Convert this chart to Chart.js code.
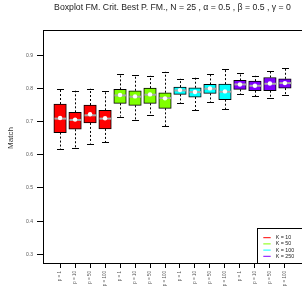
<!DOCTYPE html>
<html>
<head>
<meta charset="utf-8">
<script src="https://cdn.jsdelivr.net/npm/chart.js@4"></script>
<style>
  html, body { margin: 0; padding: 0; background: #fff; overflow: hidden; }
  #wrap { width: 302px; height: 291px; overflow: hidden; }
</style>
</head>
<body>
<div id="wrap"><canvas id="boxChart" width="306" height="291"></canvas></div>
<script>
const tickLabels = ['p = 1', 'p = 10', 'p = 50', 'p = 100',
                    'p = 1', 'p = 10', 'p = 50', 'p = 100',
                    'p = 1', 'p = 10', 'p = 50', 'p = 100',
                    'p = 1', 'p = 10', 'p = 50', 'p = 100'];
const groups = ['K = 10', 'K = 50', 'K = 100', 'K = 250'];
const groupColors = ['#FF0000', '#80FF00', '#00FFFF', '#8000FF'];

const whiskerLow  = [0.617, 0.620, 0.634, 0.638, 0.715, 0.704, 0.720, 0.686, 0.756, 0.734, 0.758, 0.738, 0.782, 0.776, 0.772, 0.779];
const q1          = [0.667, 0.677, 0.696, 0.678, 0.755, 0.749, 0.755, 0.740, 0.782, 0.774, 0.785, 0.766, 0.797, 0.793, 0.793, 0.801];
const medians     = [0.709, 0.705, 0.719, 0.709, 0.779, 0.775, 0.781, 0.771, 0.794, 0.789, 0.799, 0.790, 0.812, 0.808, 0.814, 0.816];
const q3          = [0.753, 0.728, 0.750, 0.734, 0.797, 0.793, 0.801, 0.787, 0.804, 0.802, 0.812, 0.813, 0.824, 0.822, 0.833, 0.829];
const whiskerHigh = [0.797, 0.793, 0.799, 0.793, 0.844, 0.840, 0.838, 0.850, 0.829, 0.832, 0.842, 0.859, 0.846, 0.838, 0.851, 0.863];
const means       = [0.711, 0.706, 0.722, 0.710, 0.780, 0.776, 0.782, 0.770, 0.795, 0.789, 0.800, 0.791, 0.812, 0.808, 0.815, 0.816];

const titleText = 'Boxplot FM. Crit. Best P. FM., N = 25 , \u03b1 = 0.5 , \u03b2 = 0.5 , \u03b3 = 0';
const fontFam = '"Liberation Sans", Arial, sans-serif';

const boxColors = tickLabels.map((_, i) => groupColors[Math.floor(i / 4)]);

// whiskers + medians, drawn right after the boxes so the mean dots sit on top
const boxExtras = {
    id: 'boxExtras',
    afterDatasetDraw(chart, args) {
        if (args.index !== 0) return;
        const ctx = chart.ctx, x = chart.scales.x, y = chart.scales.y;
        ctx.save();
        medians.forEach((m, i) => {
            const px = Math.round(x.getPixelForValue(i + 1)) + 0.5;
            const lo = y.getPixelForValue(whiskerLow[i]), hi = y.getPixelForValue(whiskerHigh[i]);
            ctx.strokeStyle = '#000';
            ctx.lineWidth = 1;
            ctx.setLineDash([2, 2]);
            ctx.beginPath();
            ctx.moveTo(px, y.getPixelForValue(q1[i])); ctx.lineTo(px, lo);
            ctx.moveTo(px, y.getPixelForValue(q3[i])); ctx.lineTo(px, hi);
            ctx.stroke();
            ctx.setLineDash([]);
            ctx.beginPath();
            ctx.moveTo(px - 3.5, Math.round(lo) + 0.5); ctx.lineTo(px + 3.5, Math.round(lo) + 0.5);
            ctx.moveTo(px - 3.5, Math.round(hi) + 0.5); ctx.lineTo(px + 3.5, Math.round(hi) + 0.5);
            ctx.stroke();
            const my = y.getPixelForValue(m);
            ctx.strokeStyle = '#a8a8a8';
            ctx.lineWidth = 2;
            ctx.beginPath();
            ctx.moveTo(px - 6, my); ctx.lineTo(px + 6, my);
            ctx.stroke();
        });
        ctx.restore();
    },
    afterDraw(chart) {
        const ctx = chart.ctx, a = chart.chartArea;
        ctx.save();
        // frame top
        ctx.strokeStyle = '#000';
        ctx.lineWidth = 1;
        ctx.beginPath();
        ctx.moveTo(a.left, 30.5); ctx.lineTo(a.right, 30.5);
        ctx.stroke();
        // title
        ctx.fillStyle = '#222';
        ctx.font = '8.7px ' + fontFam;
        ctx.textAlign = 'center';
        ctx.textBaseline = 'middle';
        ctx.fillText(titleText, (a.left + a.right) / 2, 8);
        // y label
        ctx.save();
        ctx.translate(11, 138);
        ctx.rotate(-Math.PI / 2);
        ctx.fillStyle = '#333';
        ctx.font = '8px ' + fontFam;
        ctx.fillText('Match', 0, 0);
        ctx.restore();
        // legend
        ctx.fillStyle = '#fff';
        ctx.fillRect(257.5, 228.5, 60, 35);
        ctx.strokeStyle = '#000';
        ctx.strokeRect(257.5, 228.5, 60, 35);
        ctx.font = '5.3px ' + fontFam;
        ctx.textAlign = 'left';
        groups.forEach((g, i) => {
            const ly = 237.7 + i * 6.2;
            ctx.strokeStyle = groupColors[i];
            ctx.lineWidth = 1;
            ctx.beginPath();
            ctx.moveTo(263.3, ly); ctx.lineTo(270.7, ly);
            ctx.stroke();
            ctx.fillStyle = '#222';
            ctx.fillText(g, 275.7, ly);
        });
        ctx.restore();
    }
};

const ctx = document.getElementById('boxChart').getContext('2d');
const boxChart = new Chart(ctx, {
    type: 'bar',
    data: {
        datasets: [{
            type: 'bar',
            data: tickLabels.map((_, i) => ({ x: i + 1, y: [q1[i], q3[i]] })),
            backgroundColor: boxColors,
            borderColor: '#000',
            borderWidth: 1,
            borderSkipped: false,
            barThickness: 12.5,
            order: 1
        }, {
            type: 'scatter',
            data: means.map((m, i) => ({ x: i + 1, y: m })),
            pointRadius: 2.2,
            pointBackgroundColor: '#fff',
            pointBorderWidth: 0,
            order: 0
        }]
    },
    options: {
        responsive: false,
        animation: false,
        layout: { padding: { top: 30, right: 2, left: 0, bottom: 0 } },
        plugins: { legend: { display: false }, tooltip: { enabled: false } },
        scales: {
            x: {
                type: 'linear',
                min: -0.14,
                max: 17.14,
                offset: false,
                grid: { drawOnChartArea: false, color: '#000', tickLength: 5, offset: false },
                border: { color: '#000', width: 1 },
                afterBuildTicks(scale) {
                    scale.ticks = tickLabels.map((_, i) => ({ value: i + 1 }));
                },
                afterFit(scale) { scale.height = 28; },
                ticks: {
                    autoSkip: false,
                    minRotation: 90,
                    maxRotation: 90,
                    padding: 3,
                    color: '#555',
                    font: { size: 4.5, family: fontFam },
                    callback: (v) => tickLabels[Math.round(v) - 1]
                }
            },
            y: {
                min: 0.274,
                max: 0.976,
                grid: { drawOnChartArea: false, color: '#000', tickLength: 6 },
                border: { color: '#000', width: 1 },
                afterFit(scale) { scale.width = 43; },
                ticks: {
                    stepSize: 0.1,
                    includeBounds: false,
                    padding: 4,
                    color: '#555',
                    font: { size: 5, family: fontFam },
                    callback: (v) => v.toFixed(1)
                }
            }
        }
    },
    plugins: [boxExtras]
});
</script>
</body>
</html>
